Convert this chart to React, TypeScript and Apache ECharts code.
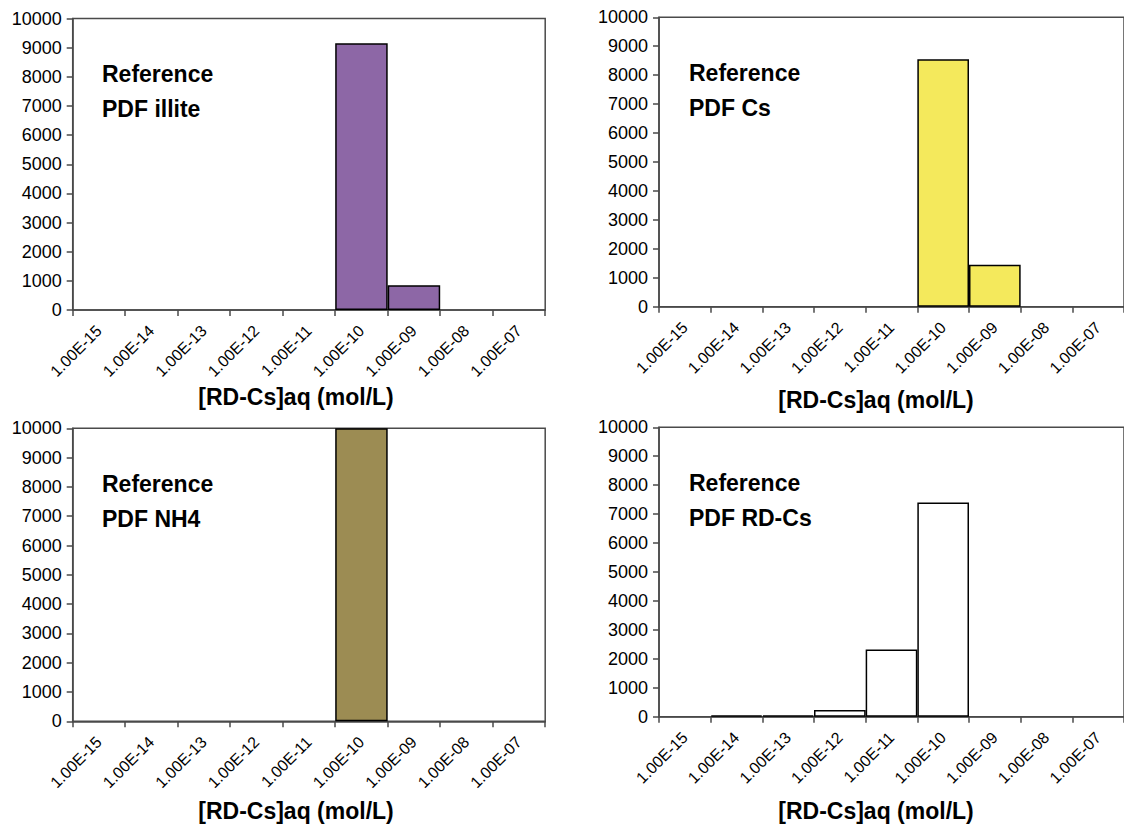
import React, { useEffect, useRef } from "react";
import * as echarts from "echarts";

const categories = [
  "1.00E-15", "1.00E-14", "1.00E-13", "1.00E-12", "1.00E-11",
  "1.00E-10", "1.00E-09", "1.00E-08", "1.00E-07",
];
const illiteValues = [0, 0, 0, 0, 0, 9150, 850, 0, 0];
const csValues = [0, 0, 0, 0, 0, 8550, 1450, 0, 0];
const nh4Values = [0, 0, 0, 0, 0, 10000, 0, 0, 0];
const rdcsValues = [0, 40, 40, 230, 2320, 7400, 0, 0, 0];
const yMin = 0;
const yMax = 10000;
const yInterval = 1000;
const xTitle = "[RD-Cs]aq (mol/L)";
const panelLabels = [
  ["Reference", "PDF illite"],
  ["Reference", "PDF Cs"],
  ["Reference", "PDF NH4"],
  ["Reference", "PDF RD-Cs"],
];
const panelValues = [illiteValues, csValues, nh4Values, rdcsValues];
const panelColors = ["#8d67a6", "#f4e95c", "#9c8c53", "#ffffff"];

const FONT = "'Liberation Sans', Arial, sans-serif";
const AXIS_COLOR = "#4a4a4a";

const grids = [
  { left: 72.7, top: 18.5, width: 472.5, height: 291.5 },
  { left: 659, top: 17.3, width: 465, height: 289.4 },
  { left: 72.7, top: 428.3, width: 472.5, height: 293 },
  { left: 659, top: 427.3, width: 465, height: 289.4 },
];
const titlePos = [
  { x: 296, y: 397 },
  { x: 876, y: 400 },
  { x: 296, y: 811 },
  { x: 876, y: 811 },
];
const notePos = [
  { x: 102, y: 74 },
  { x: 689, y: 73 },
  { x: 102, y: 484 },
  { x: 689, y: 483 },
];

export default function App() {
  const ref = useRef<HTMLDivElement>(null);
  useEffect(() => {
    if (!ref.current) return;
    const chart = echarts.init(ref.current, null, { renderer: "svg" });
    const graphic: any[] = [];
    titlePos.forEach((p) => {
      graphic.push({
        type: "text",
        x: p.x,
        y: p.y,
        style: {
          text: xTitle,
          font: `bold 23px ${FONT}`,
          fill: "#000",
          textAlign: "center",
          textVerticalAlign: "middle",
        },
      });
    });
    notePos.forEach((p, i) => {
      panelLabels[i].forEach((t, j) => {
        graphic.push({
          type: "text",
          x: p.x,
          y: p.y + j * 35,
          style: {
            text: t,
            font: `bold 23px ${FONT}`,
            fill: "#000",
            textAlign: "left",
            textVerticalAlign: "middle",
          },
        });
      });
    });
    const option: any = {
      animation: false,
      backgroundColor: "#ffffff",
      grid: grids.map((g) => ({
        ...g,
        show: true,
        borderColor: AXIS_COLOR,
        borderWidth: 1.5,
        backgroundColor: "transparent",
        containLabel: false,
        outerBoundsMode: "none",
      })),
      xAxis: grids.map((_, i) => ({
        type: "category",
        gridIndex: i,
        data: categories,
        boundaryGap: true,
        axisLine: { show: true, lineStyle: { color: AXIS_COLOR, width: 1.5 } },
        axisTick: { show: true, length: 6, interval: 0, lineStyle: { color: AXIS_COLOR, width: 1.5 } },
        axisLabel: {
          interval: 0,
          rotate: 45,
          margin: 18,
          fontSize: 16,
          fontFamily: FONT,
          color: "#000",
        },
        splitLine: { show: false },
      })),
      yAxis: grids.map((_, i) => ({
        type: "value",
        gridIndex: i,
        min: yMin,
        max: yMax,
        interval: yInterval,
        axisLine: { show: true, lineStyle: { color: AXIS_COLOR, width: 1.5 } },
        axisTick: { show: true, length: 6, lineStyle: { color: AXIS_COLOR, width: 1.5 } },
        axisLabel: {
          margin: 11,
          fontSize: 18,
          fontFamily: FONT,
          color: "#000",
          formatter: (v: number) => String(v),
        },
        splitLine: { show: false },
      })),
      series: panelValues.map((vals, i) => ({
        type: "bar",
        xAxisIndex: i,
        yAxisIndex: i,
        barCategoryGap: "0%",
        data: vals.map((v) => (v === 0 ? null : v)),
        itemStyle: {
          color: panelColors[i],
          borderColor: "#000000",
          borderWidth: 1.5,
        },
      })),
      graphic,
    };
    chart.setOption(option);
    return () => chart.dispose();
  }, []);
  return (
    <div
      ref={ref}
      style={{ position: "absolute", left: 0, top: 0, width: 1124, height: 828 }}
    />
  );
}
